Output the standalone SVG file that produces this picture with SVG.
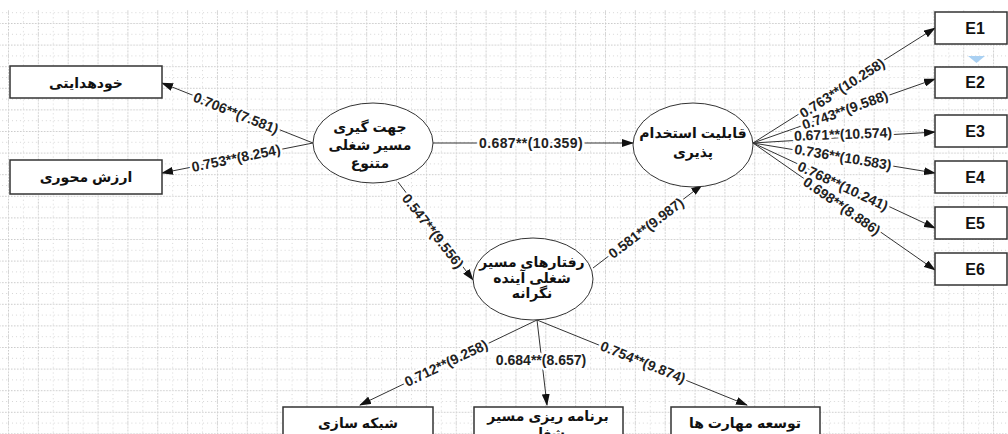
<svg xmlns="http://www.w3.org/2000/svg" width="1008" height="434" viewBox="0 0 1008 434">
<style>
.box{fill:#fff;stroke:#333;stroke-width:1.5}
.ell{fill:#fff;stroke:#333;stroke-width:1}
.edge{stroke:#333;stroke-width:1;fill:none}
.fa{font-family:"Liberation Sans","DejaVu Sans",sans-serif;font-weight:bold;font-size:14px;fill:#111;text-anchor:middle}
.en{font-family:"Liberation Sans",Arial,sans-serif;font-weight:bold;font-size:16px;fill:#111;text-anchor:middle}
.lbl{font-family:"Liberation Sans",Arial,sans-serif;font-weight:bold;font-size:14px;fill:#222;text-anchor:middle;dominant-baseline:central;paint-order:stroke;stroke:#fff;stroke-width:5px;stroke-linejoin:round}
</style>
<defs>
<pattern id="grid" x="8" y="1.4" width="29.85" height="21.6" patternUnits="userSpaceOnUse">
<line x1="0.5" y1="0" x2="0.5" y2="21.6" stroke="#c9c9c9" stroke-width="1" stroke-dasharray="1.5,1.5"/>
<line x1="0" y1="0.5" x2="29.85" y2="0.5" stroke="#c9c9c9" stroke-width="1" stroke-dasharray="1.5,1.5"/>
<line x1="15.4" y1="0" x2="15.4" y2="21.6" stroke="#d6d6d6" stroke-width="1" stroke-dasharray="1,3"/>
<line x1="0" y1="11.3" x2="29.85" y2="11.3" stroke="#d6d6d6" stroke-width="1" stroke-dasharray="1,3"/>
</pattern>
<marker id="arr" markerWidth="12" markerHeight="8" refX="11" refY="4" orient="auto" markerUnits="userSpaceOnUse">
<path d="M0,0 L12,4 L0,8 Z" fill="#111"/>
</marker>
</defs>
<rect x="0" y="0" width="1008" height="434" fill="#fff"/>
<rect x="0" y="10" width="1008" height="424" fill="url(#grid)"/>
<polygon points="968,56 985,56 976.5,63" fill="#a9d0f2"/>

<g id="connectors">
<line class="edge" x1="313" y1="143" x2="162" y2="83" marker-end="url(#arr)"/>
<line class="edge" x1="313" y1="143" x2="162" y2="173" marker-end="url(#arr)"/>
<line class="edge" x1="433" y1="143" x2="633" y2="143" marker-end="url(#arr)"/>
<line class="edge" x1="398" y1="182" x2="473" y2="280" marker-end="url(#arr)"/>
<line class="edge" x1="593" y1="268" x2="702" y2="185" marker-end="url(#arr)"/>
<line class="edge" x1="753" y1="143" x2="935" y2="28" marker-end="url(#arr)"/>
<line class="edge" x1="753" y1="143" x2="935" y2="79" marker-end="url(#arr)"/>
<line class="edge" x1="753" y1="143" x2="935" y2="132" marker-end="url(#arr)"/>
<line class="edge" x1="753" y1="143" x2="935" y2="173" marker-end="url(#arr)"/>
<line class="edge" x1="753" y1="143" x2="935" y2="228" marker-end="url(#arr)"/>
<line class="edge" x1="753" y1="143" x2="935" y2="270" marker-end="url(#arr)"/>
<line class="edge" x1="537" y1="320" x2="360" y2="405" marker-end="url(#arr)"/>
<line class="edge" x1="537" y1="320" x2="547" y2="405" marker-end="url(#arr)"/>
<line class="edge" x1="537" y1="320" x2="747" y2="405" marker-end="url(#arr)"/>

<text class="lbl" transform="translate(236,113) rotate(21.7)">0.706**(7.581)</text>
<text class="lbl" transform="translate(236,158) rotate(-11.5)">0.753**(8.254)</text>
<text class="lbl" transform="translate(531,143)" style="letter-spacing:0.4px">0.687**(10.359)</text>
<text class="lbl" transform="translate(433,231) rotate(52)">0.547**(9.556)</text>
<text class="lbl" transform="translate(646,228) rotate(-37.3)">0.581**(9.987)</text>
<text class="lbl" transform="translate(842,88) rotate(-32.7)">0.763**(10.258)</text>
<text class="lbl" transform="translate(845,110) rotate(-19.9)">0.743**(9.588)</text>
<text class="lbl" transform="translate(843,134) rotate(-2)">0.671**(10.574)</text>
<text class="lbl" transform="translate(843,157) rotate(9.6)">0.736**(10.583)</text>
<text class="lbl" transform="translate(843,186) rotate(25)">0.768**(10.241)</text>
<text class="lbl" transform="translate(842,206) rotate(34.9)">0.698**(8.886)</text>
<text class="lbl" transform="translate(446,363) rotate(-25.6)">0.712**(9.258)</text>
<text class="lbl" transform="translate(541,360)">0.684**(8.657)</text>
<text class="lbl" transform="translate(643,362) rotate(22)">0.754**(9.874)</text>
</g>

<g id="n-khodhedayati">
<rect class="box" x="10" y="66" width="152" height="32"/>
<text class="fa" x="86" y="88">خودهدایتی</text>
</g>
<g id="n-arzesh">
<rect class="box" x="10" y="160" width="152" height="34"/>
<text class="fa" x="86" y="182">ارزش محوری</text>
</g>
<g id="n-jahat">
<ellipse class="ell" cx="373" cy="143" rx="60" ry="40"/>
<text class="fa" x="370" y="132">جهت گیری</text>
<text class="fa" x="370" y="150">مسیر شغلی</text>
<text class="fa" x="370" y="168">متنوع</text>
</g>
<g id="n-qabeliat">
<ellipse class="ell" cx="693" cy="145" rx="60" ry="42"/>
<text class="fa" x="693" y="138">قابلیت استخدام</text>
<text class="fa" x="693" y="157">پذیری</text>
</g>
<g id="n-raftar">
<ellipse class="ell" cx="533" cy="279" rx="60" ry="41"/>
<text class="fa" x="532" y="267">رفتارهای مسیر</text>
<text class="fa" x="532" y="283">شغلی آینده</text>
<text class="fa" x="532" y="298">نگرانه</text>
</g>
<g id="n-E1"><rect class="box" x="935" y="12" width="72" height="32"/><text class="en" x="975" y="34">E1</text></g>
<g id="n-E2"><rect class="box" x="935" y="67" width="72" height="31"/><text class="en" x="975" y="88">E2</text></g>
<g id="n-E3"><rect class="box" x="935" y="115" width="72" height="32"/><text class="en" x="975" y="137">E3</text></g>
<g id="n-E4"><rect class="box" x="935" y="161" width="72" height="32"/><text class="en" x="975" y="183">E4</text></g>
<g id="n-E5"><rect class="box" x="935" y="207" width="72" height="32"/><text class="en" x="975" y="229">E5</text></g>
<g id="n-E6"><rect class="box" x="935" y="253" width="72" height="32"/><text class="en" x="975" y="275">E6</text></g>
<g id="n-shabake">
<rect class="box" x="283" y="407" width="150" height="40"/>
<text class="fa" x="358" y="428">شبکه سازی</text>
</g>
<g id="n-barname">
<rect class="box" x="474" y="407" width="149" height="40"/>
<text class="fa" x="548" y="421">برنامه ریزی مسیر</text>
<text class="fa" x="548" y="438">شغل</text>
</g>
<g id="n-tose">
<rect class="box" x="671" y="407" width="149" height="40"/>
<text class="fa" x="745" y="428">توسعه مهارت ها</text>
</g>
</svg>
